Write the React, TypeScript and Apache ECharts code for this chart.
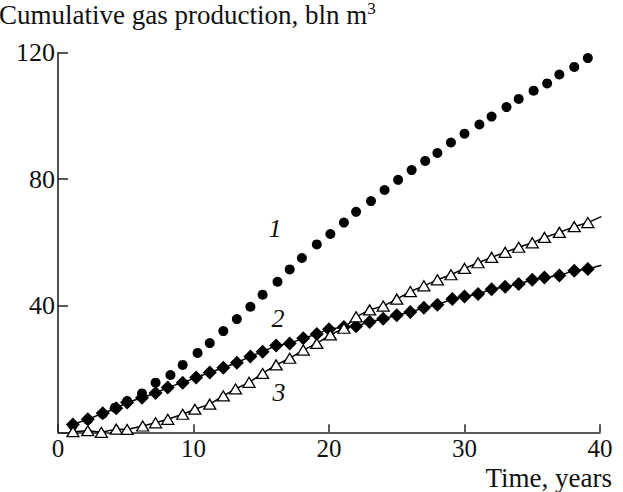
import React, { useEffect, useRef } from "react";
import * as echarts from "echarts";

const xTicks = [0, 10, 20, 30, 40];
const yTicks = [0, 40, 80, 120];

// Curve 1 (filled circles)
const s1X = [1.1, 2.2, 3.3, 4.2, 5.1, 6.2, 7.2, 8.3, 9.2, 10.3, 11.2, 12.2, 13.2, 14.2, 15.1, 16.2, 17.1, 18.0, 19.1, 20.1, 21.1, 22.0, 23.1, 24.1, 25.1, 26.1, 27.1, 28.0, 29.0, 30.0, 31.1, 32.0, 33.1, 34.0, 35.1, 36.1, 37.0, 38.1, 39.1];
const s1Y = [2.2, 4.0, 5.8, 7.8, 9.9, 12.3, 15.7, 18.1, 21.3, 25.1, 28.2, 32.0, 35.8, 39.7, 43.5, 47.6, 51.5, 55.1, 59.4, 62.7, 66.3, 69.7, 73.1, 76.6, 79.8, 82.9, 85.8, 88.3, 91.6, 94.4, 97.3, 99.8, 102.8, 105.4, 108.0, 110.3, 113.1, 115.5, 118.3];

// Curve 2 (filled diamonds)
const s2X = [1.1, 2.2, 3.3, 4.3, 5.1, 6.2, 7.2, 8.1, 9.2, 10.2, 11.2, 12.2, 13.2, 14.2, 15.1, 16.1, 17.1, 18.1, 19.1, 20.0, 21.1, 22.0, 23.0, 24.0, 25.0, 26.0, 27.0, 28.0, 29.1, 30.0, 31.0, 32.0, 33.0, 34.0, 35.0, 35.9, 37.0, 38.1, 39.1, 40.1];
const s2Y = [2.5, 4.1, 6.0, 7.6, 9.4, 10.9, 12.4, 14.2, 15.7, 17.3, 18.9, 20.4, 22.0, 24.0, 25.5, 27.4, 28.1, 29.7, 31.1, 32.6, 33.3, 33.5, 34.9, 35.9, 37.0, 38.0, 39.4, 40.3, 42.1, 42.9, 43.7, 45.2, 46.0, 46.9, 48.2, 48.9, 49.6, 51.1, 51.6, 52.8];

// Curve 3 (open triangles)
const s3X = [1.1, 2.2, 3.2, 4.3, 5.1, 6.25, 7.2, 8.1, 9.2, 10.1, 11.2, 12.2, 13.1, 14.1, 15.1, 16.1, 17.1, 18.1, 19.1, 20.1, 21.1, 22.0, 23.0, 24.0, 25.0, 26.0, 27.0, 28.0, 29.0, 30.0, 31.0, 32.0, 33.0, 34.0, 35.0, 35.9, 37.0, 38.1, 39.1, 40.1];
const s3Y = [0.2, 0.5, 0.0, 1.0, 0.9, 2.0, 3.0, 4.1, 5.7, 7.3, 8.9, 11.5, 13.7, 15.8, 18.6, 21.3, 23.4, 26.0, 28.1, 30.8, 32.9, 36.5, 38.7, 39.9, 42.1, 44.5, 46.3, 48.2, 49.8, 51.8, 53.6, 55.3, 56.9, 58.5, 59.9, 61.6, 63.2, 65.0, 66.3, 68.2];

const curveLabels = ["1", "2", "3"];

const FONT = "'Liberation Serif', 'DejaVu Serif', serif";

function pairs(xs: number[], ys: number[]) {
  return xs.map((x, i) => [x, ys[i]]);
}

export default function App() {
  const ref = useRef<HTMLDivElement>(null);
  useEffect(() => {
    if (!ref.current) return;
    const chart = echarts.init(ref.current, undefined, { renderer: "svg" });
    const labelStyle = (t: string, x: number, y: number) => ({
      type: "text",
      x,
      y,
      style: {
        text: t,
        font: `italic 26px ${FONT}`,
        fill: "#111",
        align: "center",
        verticalAlign: "middle",
      },
    });
    chart.setOption({
      animation: false,
      backgroundColor: "#ffffff",
      title: {
        text: "Cumulative gas production, bln m{sup|3}",
        left: -1,
        top: 0,
        padding: 0,
        textStyle: {
          fontFamily: FONT,
          fontSize: 27,
          fontWeight: "normal",
          color: "#111",
          rich: {
            sup: { fontFamily: FONT, fontSize: 17, color: "#111", verticalAlign: "top", padding: [0, 0, 12, 0] },
          },
        },
      },
      grid: { left: 58, right: 23, top: 52.7, bottom: 59.7 },
      xAxis: {
        type: "value",
        min: xTicks[0],
        max: xTicks[xTicks.length - 1],
        interval: 10,
        splitLine: { show: false },
        axisLine: { show: true, lineStyle: { color: "#222", width: 1.6 } },
        axisTick: { show: true, inside: true, length: 8, lineStyle: { color: "#222", width: 1.5 } },
        axisLabel: { fontFamily: FONT, fontSize: 25, color: "#111", margin: 4 },
      },
      yAxis: {
        type: "value",
        min: yTicks[0],
        max: yTicks[yTicks.length - 1],
        interval: 40,
        splitLine: { show: false },
        axisLine: { show: true, lineStyle: { color: "#222", width: 1.6 } },
        axisTick: { show: true, inside: true, length: 10, lineStyle: { color: "#222", width: 1.5 } },
        axisLabel: {
          fontFamily: FONT,
          fontSize: 26,
          color: "#111",
          margin: 3,
          formatter: (v: number) => (v === 0 ? "" : String(v)),
        },
      },
      series: [
        {
          type: "scatter",
          data: pairs(s1X, s1Y),
          symbol: "circle",
          symbolSize: 10,
          itemStyle: { color: "#000", opacity: 1 },
          z: 3,
        },
        {
          type: "line",
          data: pairs(s2X, s2Y),
          symbol: "diamond",
          symbolSize: [14, 14],
          showAllSymbol: true,
          lineStyle: { color: "#000", width: 1.5 },
          itemStyle: { color: "#000", borderColor: "#000", borderWidth: 0, opacity: 1 },
          z: 4,
        },
        {
          type: "line",
          data: pairs(s3X, s3Y),
          symbol: "triangle",
          symbolSize: [12, 10],
          showAllSymbol: true,
          lineStyle: { color: "#000", width: 1.5 },
          itemStyle: { color: "#fff", borderColor: "#000", borderWidth: 1.3, opacity: 1 },
          z: 5,
        },
      ],
      graphic: [
        labelStyle(curveLabels[0], 275, 228),
        labelStyle(curveLabels[1], 278, 318),
        labelStyle(curveLabels[2], 279, 392),
        {
          type: "text",
          x: 612,
          y: 478,
          style: {
            text: "Time, years",
            font: `27px ${FONT}`,
            fill: "#111",
            align: "right",
            verticalAlign: "middle",
          },
        },
      ],
    });
    return () => chart.dispose();
  }, []);
  return <div ref={ref} style={{ width: 623, height: 492, position: "absolute", left: 0, top: 0 }} />;
}
